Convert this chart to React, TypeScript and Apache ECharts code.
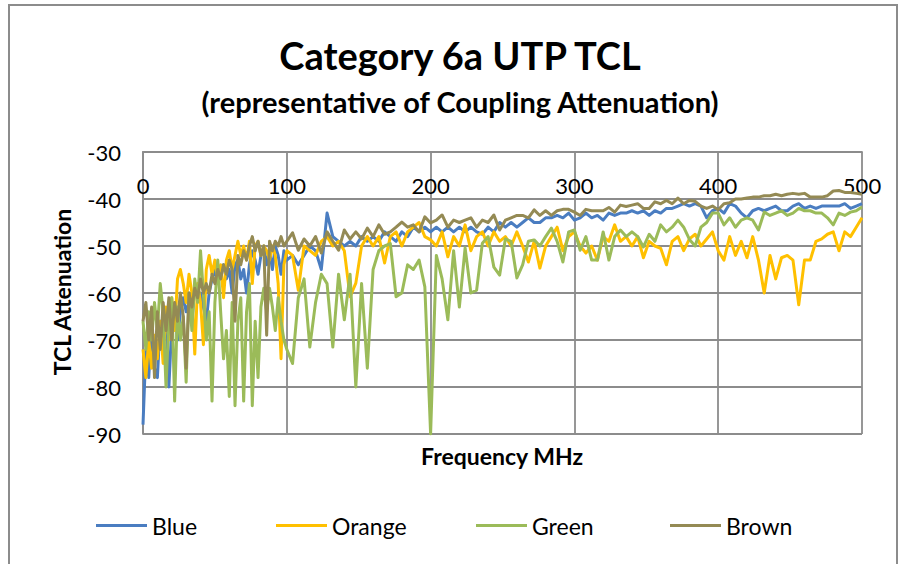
import React, { useEffect, useRef } from "react";
import * as echarts from "echarts";

// Frequency (MHz) sample points
const freq = [
  0, 2, 4, 6, 8, 10, 12, 14, 16, 18,
  20, 22, 24, 26, 28, 30, 32, 34, 36, 38,
  40, 42, 44, 46, 48, 50, 52, 54, 56, 58,
  60, 62, 64, 66, 68, 70, 72, 74, 76, 78,
  80, 82, 84, 86, 88, 90, 92, 94, 96, 98,
  100,
  104, 108, 112, 116, 120, 124, 128, 132, 136, 140,
  144, 148, 152, 156, 160, 164, 168, 172, 176, 180,
  184, 188, 192, 196, 200, 204, 208, 212, 216, 220,
  224, 228, 232, 236, 240, 244, 248, 252, 256, 260,
  264, 268, 272, 276, 280, 284, 288, 292, 296, 300,
  304, 308, 312, 316, 320, 324, 328, 332, 336, 340,
  344, 348, 352, 356, 360, 364, 368, 372, 376, 380,
  384, 388, 392, 396, 400, 404, 408, 412, 416, 420,
  424, 428, 432, 436, 440, 444, 448, 452, 456, 460,
  464, 468, 472, 476, 480, 484, 488, 492, 496, 500,
];

const blue = [
  -88, -72, -78, -67, -76, -78, -66, -71, -64, -80,
  -67, -63, -70, -64, -61, -64, -62, -66, -59, -61,
  -60, -63, -66, -60, -57, -55, -58, -56, -54, -57,
  -55, -60, -54, -53, -57, -55, -60, -54, -51, -53,
  -56, -52, -50, -54, -51, -55, -50, -52, -56, -51,
  -53,
  -52, -54, -52, -50, -51, -55, -43, -48, -49, -50,
  -49, -50, -48, -49, -48, -49, -47, -48, -49, -47,
  -48, -46, -47, -46, -47, -46, -47, -46, -47, -46,
  -47, -46, -47, -47.5, -46, -47, -45, -46, -45, -46,
  -45, -44, -45, -45, -44, -44, -43.5, -44, -43, -44.5,
  -44, -43, -44, -43.5, -44.5, -43, -43.5, -43, -43, -42.5,
  -43, -42.5, -43.5, -42.5, -43, -42, -42, -41.5, -41, -41.5,
  -41, -41.5, -44, -42.5, -42, -43, -41, -41.5, -43, -44,
  -42.5, -42, -42.5, -42, -41.5, -42.5, -42.5, -41.5, -41, -42,
  -41.5, -42, -41.5, -41.5, -41.5, -41.5, -41, -42, -41.5, -41,
];

const orange = [
  -72, -78, -70, -76, -69, -74, -66, -75, -63, -70,
  -61, -68, -57, -55, -58, -62, -56, -60, -73, -58,
  -62, -71, -55, -52, -56, -53, -57, -54, -61, -53,
  -51, -55, -52, -49, -52, -50, -53, -49, -58, -50,
  -49, -52, -50, -51, -53, -50, -52, -58, -74, -54,
  -51,
  -52, -59.4, -50, -51, -52, -49, -48, -50, -49, -51,
  -60.8, -57.9, -50, -48, -50, -48, -53.6, -48, -47, -50,
  -47, -46, -45, -48, -48.7, -50, -47, -52.3, -48, -50,
  -45.5, -51, -48, -47, -50, -47, -49, -48, -50, -47,
  -50, -53.4, -49, -54.7, -50, -48, -46, -51, -48, -47,
  -50, -51.5, -50, -53, -48, -49, -45.5, -49, -48, -50,
  -48, -52.5, -49, -50, -50.5, -54, -49, -48, -51, -48.5,
  -47.5, -50, -48.5, -47, -51, -53, -48, -52, -49, -52.5,
  -48, -53, -60, -52, -57, -52.5, -52, -53, -62.5, -53,
  -53, -49, -48.5, -47.5, -47, -51, -47, -48, -46, -44,
];

const green = [
  -66, -72, -64, -70, -62, -68, -58, -64, -80, -66,
  -61, -83, -63, -70, -65, -79, -60, -68, -57, -62,
  -51, -60, -70, -64, -83, -62, -53, -64, -74, -68,
  -82, -62, -84, -66, -61, -83, -64, -58, -84, -66,
  -78, -63, -59, -64, -59, -63, -68, -61, -66, -70,
  -72,
  -75, -61, -57, -71.5, -62, -56, -58, -71.5, -56, -65.7,
  -56, -80, -58, -76, -55, -51, -50, -49.5, -60.8, -60,
  -54, -55, -53, -58.7, -90, -52, -57, -65.7, -51, -63,
  -50.4, -60, -59.4, -49.4, -48, -54.5, -56.2, -48.5, -49, -56.8,
  -54, -49, -48.7, -50, -48, -46.2, -49, -53.4, -47, -46.6,
  -50.9, -48, -53, -53, -47, -53, -48, -46.6, -48, -47,
  -48, -50.2, -47.5, -49, -45.5, -47, -46, -44.5, -46, -48.6,
  -50, -46, -45, -43, -43, -45.5, -44, -46, -44.5, -44,
  -44.5, -46.6, -42.8, -43.5, -43, -42.5, -43.5, -43, -42, -42.5,
  -42.5, -43, -43, -44, -45.5, -43, -43.5, -42.8, -42.5, -41.7,
];

const brown = [
  -66, -62, -70, -63, -78, -64, -72, -62, -68, -61,
  -70, -62, -66, -60, -65, -76, -60, -63, -59, -61,
  -57, -60, -58, -60, -56, -58, -55, -57, -54, -56,
  -53, -55, -66, -52, -54, -51, -53, -50, -48, -51,
  -49, -52, -50, -69, -49, -51, -49, -50, -48, -50,
  -49,
  -47.2, -50.9, -48.5, -50, -48, -51.5, -47, -49, -50.9, -46.6,
  -48.5, -47, -48.5, -46.2, -48, -45.5, -47.5, -47, -46, -44.9,
  -46, -45.5, -47, -43.8, -45.1, -44.5, -43.4, -46, -44.5, -45,
  -44.5, -44, -46, -44.5, -45, -43.4, -46.6, -44.5, -44, -43.5,
  -43.5, -44, -42.3, -43.5, -42.5, -43.5, -42.5, -42.2, -42.2, -42.8,
  -43.5, -42.2, -42.5, -42.5, -42.5, -41.8, -42.8, -41.3, -41.6, -41.3,
  -41, -42, -42, -40.6, -41, -40.3, -41, -39.8, -41, -40.3,
  -40.5, -41.5, -42, -41.5, -42.3, -41, -40.8, -40, -40, -39.8,
  -39.6, -39.6, -39.3, -39.3, -39, -39.3, -39, -38.8, -39, -38.8,
  -39.6, -39.6, -39.6, -39.3, -38.3, -38.2, -38.6, -38.6, -38.8, -39,
];

const seriesNames = ["Blue", "Orange", "Green", "Brown"];
const seriesColors = ["#4A7DC1", "#FFC000", "#9BBB59", "#948A54"];
const seriesValues = [blue, orange, green, brown];
const legendLefts = [96, 276, 476, 670];

const titleText = "Category 6a UTP TCL";
const subtitleText = "(representative of Coupling Attenuation)";
const xAxisTitle = "Frequency MHz";
const yAxisTitle = "TCL Attenuation";

export default function App() {
  const ref = useRef<HTMLDivElement>(null);

  useEffect(() => {
    document.body.style.margin = "0";
    const chart = echarts.init(ref.current!, null, { renderer: "svg" });
    const font = "Lato, 'Noto Sans', sans-serif";
    const gridColor = "#8c8c8c";

    const series = seriesNames.map((name, k) => ({
      name,
      type: "line",
      data: freq.map((f, i) => [f, seriesValues[k][i]]),
      showSymbol: false,
      symbol: "none",
      lineStyle: { color: seriesColors[k], width: 3, join: "round" },
      itemStyle: { color: seriesColors[k] },
      emphasis: { disabled: true },
    }));

    const legends = seriesNames.map((name, k) => ({
      data: [name],
      left: legendLefts[k],
      top: 514,
      padding: 0,
      icon: "rect",
      itemWidth: 51,
      itemHeight: 3,
      selectedMode: false,
      textStyle: { color: "#000", fontSize: 23, fontFamily: font },
    }));

    chart.setOption({
      animation: false,
      backgroundColor: "#ffffff",
      grid: { left: 143, top: 152, width: 719, height: 282, containLabel: false },
      xAxis: {
        type: "value",
        min: 0,
        max: 500,
        interval: 100,
        position: "top",
        axisLine: { show: true, onZero: false, lineStyle: { color: gridColor, width: 1.8 } },
        axisTick: { show: false },
        axisLabel: { inside: true, margin: 22, color: "#000", fontSize: 22, fontFamily: font },
        splitLine: { show: true, lineStyle: { color: gridColor, width: 1.8 } },
      },
      yAxis: {
        type: "value",
        min: -90,
        max: -30,
        interval: 10,
        axisLine: { show: true, onZero: false, lineStyle: { color: gridColor, width: 1.8 } },
        axisTick: { show: false },
        axisLabel: { margin: 22, color: "#000", fontSize: 22, fontFamily: font },
        splitLine: { show: true, lineStyle: { color: gridColor, width: 1.8 } },
      },
      legend: legends,
      series,
      graphic: [
        {
          type: "rect",
          silent: true,
          z: -10,
          shape: { x: 9, y: 5, width: 888, height: 620 },
          style: { fill: "none", stroke: "#8c8c8c", lineWidth: 2 },
        },
        {
          type: "text",
          x: 460,
          y: 55,
          style: {
            text: titleText,
            fill: "#000",
            fontSize: 38,
            fontWeight: "bold",
            fontFamily: font,
            textAlign: "center",
            textVerticalAlign: "middle",
            align: "center",
            verticalAlign: "middle",
          },
        },
        {
          type: "text",
          x: 460,
          y: 101,
          style: {
            text: subtitleText,
            fill: "#000",
            fontSize: 29,
            fontWeight: "bold",
            fontFamily: font,
            textAlign: "center",
            textVerticalAlign: "middle",
            align: "center",
            verticalAlign: "middle",
          },
        },
        {
          type: "text",
          x: 502,
          y: 456,
          style: {
            text: xAxisTitle,
            fill: "#000",
            fontSize: 23,
            fontWeight: "bold",
            fontFamily: font,
            textAlign: "center",
            textVerticalAlign: "middle",
            align: "center",
            verticalAlign: "middle",
          },
        },
        {
          type: "text",
          x: 62,
          y: 292,
          rotation: Math.PI / 2,
          style: {
            text: yAxisTitle,
            fill: "#000",
            fontSize: 23,
            fontWeight: "bold",
            fontFamily: font,
            textAlign: "center",
            textVerticalAlign: "middle",
            align: "center",
            verticalAlign: "middle",
          },
        },
      ],
    });

    return () => chart.dispose();
  }, []);

  return (
    <div
      ref={ref}
      style={{ position: "absolute", left: 0, top: 0, width: 909, height: 564 }}
    />
  );
}
